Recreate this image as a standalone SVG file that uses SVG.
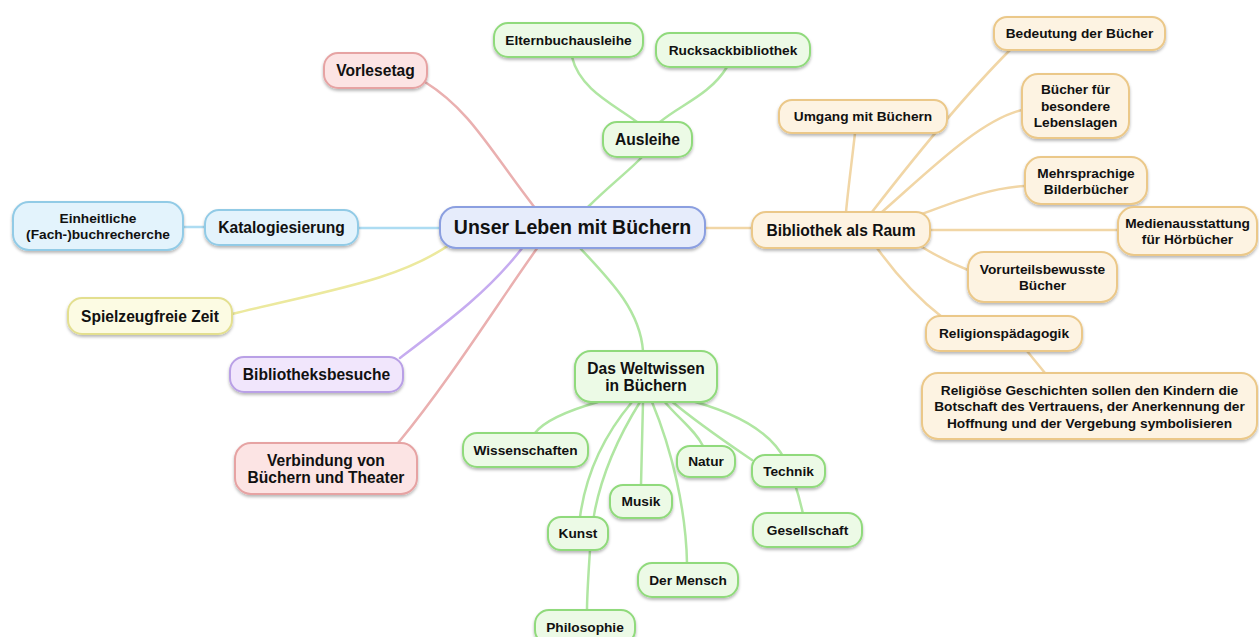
<svg xmlns="http://www.w3.org/2000/svg" width="1259" height="637" viewBox="0 0 1259 637">
<defs>
<filter id="sh" x="-10%" y="-20%" width="120%" height="150%">
<feDropShadow dx="0" dy="2" stdDeviation="1.4" flood-color="#000" flood-opacity="0.28"/>
</filter>
<style>
text{font-family:"Liberation Sans",Arial,sans-serif;font-weight:bold;fill:#111;text-anchor:middle}
.s{font-size:13.7px}
.m{font-size:15.6px}
.c{font-size:19.5px}
rect{stroke-width:2;filter:url(#sh)}
.red rect{fill:#fce4e4;stroke:#e6a3a3}
.blue rect{fill:#e3f3fc;stroke:#92cbe6}
.yel rect{fill:#fcfbe3;stroke:#e3df8f}
.pur rect{fill:#f1e6fc;stroke:#b9a0e6}
.grn rect{fill:#ecfae6;stroke:#90da7c}
.org rect{fill:#fdf3e2;stroke:#ebc889}
.cen rect{fill:#e6ecfb;stroke:#8b9fe0}
#connectors path{fill:none;stroke-width:2.5;stroke-linecap:round}
.lr{stroke:#eab0b0}
.lb{stroke:#addcf2}
.ly{stroke:#ece99e}
.lp{stroke:#c6acf0}
.lg{stroke:#b0e6a2}
.lo{stroke:#f1d6a6}
</style>
</defs>
<rect x="0" y="0" width="1259" height="637" fill="#fff" style="filter:none;stroke:none"/>
<g id="connectors">
<path class="lr" d="M425 82 C470 110 490 150 535 208"/>
<path class="lb" d="M183 227 L205 227"/>
<path class="lb" d="M358 228 L441 228"/>
<path class="ly" d="M232 314 C330 290 400 280 452 243"/>
<path class="lp" d="M400 358 C450 320 490 290 523 247"/>
<path class="lr" d="M398 443 C450 380 500 300 538 247"/>
<path class="lg" d="M580 248 C610 280 640 310 643 351"/>
<path class="lg" d="M588 207 C610 185 630 170 642 157"/>
<path class="lg" d="M572 57 C580 90 615 105 637 122"/>
<path class="lg" d="M727 67 C710 95 680 105 660 122"/>
<path class="lo" d="M705 228 L752 228"/>
<path class="lo" d="M855 133 C852 160 848 190 846 212"/>
<path class="lo" d="M872 212 C920 150 970 90 1010 50"/>
<path class="lo" d="M882 212 C930 170 980 120 1022 110"/>
<path class="lo" d="M922 214 C960 200 990 188 1025 186"/>
<path class="lo" d="M930 230 L1118 230"/>
<path class="lo" d="M922 247 C940 258 955 265 968 270"/>
<path class="lo" d="M877 248 C900 280 920 300 942 317"/>
<path class="lo" d="M1027 351 L1045 373"/>
<path class="lg" d="M598 402 C570 410 545 420 535 433"/>
<path class="lg" d="M632 402 C600 440 585 480 580 517"/>
<path class="lg" d="M640 402 C610 450 592 500 590 550 C588 580 587 595 587 610"/>
<path class="lg" d="M643 402 L641 485"/>
<path class="lg" d="M652 402 C672 450 686 510 687 563"/>
<path class="lg" d="M663 400 C680 420 695 430 703 446"/>
<path class="lg" d="M670 400 C700 425 730 445 752 460"/>
<path class="lg" d="M680 398 C730 410 770 430 785 460 C795 480 800 500 803 514"/>
</g>
<g id="n-central" class="cen"><rect x="440" y="207" width="265" height="41" rx="16"/><text class="c" x="572.5" y="234.3">Unser Leben mit Büchern</text></g>
<g id="n-vorlesetag" class="red"><rect x="324" y="53" width="103" height="35" rx="14"/><text class="m" x="375.5" y="76">Vorlesetag</text></g>
<g id="n-katalog" class="blue"><rect x="205" y="210" width="153" height="35" rx="14"/><text class="m" x="281.5" y="233">Katalogiesierung</text></g>
<g id="n-einheit" class="blue"><rect x="13" y="202" width="170" height="48" rx="16"/><text class="s" x="98" y="223">Einheitliche</text><text class="s" x="98" y="239">(Fach-)buchrecherche</text></g>
<g id="n-spiel" class="yel"><rect x="68" y="298" width="164" height="36" rx="14"/><text class="m" x="150" y="321.5">Spielzeugfreie Zeit</text></g>
<g id="n-besuche" class="pur"><rect x="230" y="357" width="173" height="35" rx="14"/><text class="m" x="316.5" y="380">Bibliotheksbesuche</text></g>
<g id="n-theater" class="red"><rect x="235" y="443" width="182" height="51" rx="16"/><text class="m" x="326" y="465.5">Verbindung von</text><text class="m" x="326" y="483">Büchern und Theater</text></g>
<g id="n-ausleihe" class="grn"><rect x="603" y="122" width="89" height="35" rx="14"/><text class="m" x="647.5" y="145">Ausleihe</text></g>
<g id="n-eltern" class="grn"><rect x="494" y="23" width="149" height="34" rx="14"/><text class="s" x="568.5" y="44.8">Elternbuchausleihe</text></g>
<g id="n-rucksack" class="grn"><rect x="656" y="33" width="154" height="34" rx="14"/><text class="s" x="733" y="54.8">Rucksackbibliothek</text></g>
<g id="n-raum" class="org"><rect x="752" y="212" width="178" height="36" rx="14"/><text class="m" x="841" y="235.5">Bibliothek als Raum</text></g>
<g id="n-umgang" class="org"><rect x="779" y="100" width="168" height="33" rx="13"/><text class="s" x="863" y="121.3">Umgang mit Büchern</text></g>
<g id="n-bedeutung" class="org"><rect x="994" y="17" width="171" height="33" rx="13"/><text class="s" x="1079.5" y="38.3">Bedeutung der Bücher</text></g>
<g id="n-lebenslagen" class="org"><rect x="1022" y="74" width="107" height="64" rx="16"/><text class="s" x="1075.5" y="94">Bücher für</text><text class="s" x="1075.5" y="110.7">besondere</text><text class="s" x="1075.5" y="127.4">Lebenslagen</text></g>
<g id="n-mehrspr" class="org"><rect x="1025" y="157" width="122" height="47" rx="16"/><text class="s" x="1086" y="177.5">Mehrsprachige</text><text class="s" x="1086" y="193.5">Bilderbücher</text></g>
<g id="n-medien" class="org"><rect x="1118" y="207" width="139" height="48" rx="16"/><text class="s" x="1187.5" y="227.8">Medienausstattung</text><text class="s" x="1187.5" y="243.8">für Hörbücher</text></g>
<g id="n-vorurteil" class="org"><rect x="968" y="252" width="149" height="50" rx="16"/><text class="s" x="1042.5" y="273.8">Vorurteilsbewusste</text><text class="s" x="1042.5" y="289.8">Bücher</text></g>
<g id="n-religion" class="org"><rect x="926" y="316" width="156" height="35" rx="14"/><text class="s" x="1004" y="338.3">Religionspädagogik</text></g>
<g id="n-geschichten" class="org"><rect x="922" y="373" width="335" height="66" rx="16"/><text class="s" x="1089.5" y="394.8">Religiöse Geschichten sollen den Kindern die</text><text class="s" x="1089.5" y="411.3">Botschaft des Vertrauens, der Anerkennung der</text><text class="s" x="1089.5" y="427.8">Hoffnung und der Vergebung symbolisieren</text></g>
<g id="n-weltwissen" class="grn"><rect x="575" y="351" width="142" height="51" rx="16"/><text class="m" x="646" y="373.5">Das Weltwissen</text><text class="m" x="646" y="390.5">in Büchern</text></g>
<g id="n-wissenschaften" class="grn"><rect x="463" y="433" width="125" height="34" rx="14"/><text class="s" x="525.5" y="454.8">Wissenschaften</text></g>
<g id="n-natur" class="grn"><rect x="677" y="446" width="58" height="31" rx="13"/><text class="s" x="706" y="466.3">Natur</text></g>
<g id="n-technik" class="grn"><rect x="752" y="455" width="73" height="32" rx="13"/><text class="s" x="788.5" y="475.8">Technik</text></g>
<g id="n-musik" class="grn"><rect x="610" y="485" width="62" height="33" rx="13"/><text class="s" x="641" y="506.3">Musik</text></g>
<g id="n-kunst" class="grn"><rect x="548" y="517" width="60" height="33" rx="13"/><text class="s" x="578" y="538.3">Kunst</text></g>
<g id="n-gesellschaft" class="grn"><rect x="753" y="513" width="109" height="34" rx="14"/><text class="s" x="807.5" y="534.8">Gesellschaft</text></g>
<g id="n-mensch" class="grn"><rect x="638" y="563" width="100" height="34" rx="14"/><text class="s" x="688" y="584.8">Der Mensch</text></g>
<g id="n-philosophie" class="grn"><rect x="535" y="610" width="100" height="34" rx="14"/><text class="s" x="585" y="631.5">Philosophie</text></g>
</svg>
